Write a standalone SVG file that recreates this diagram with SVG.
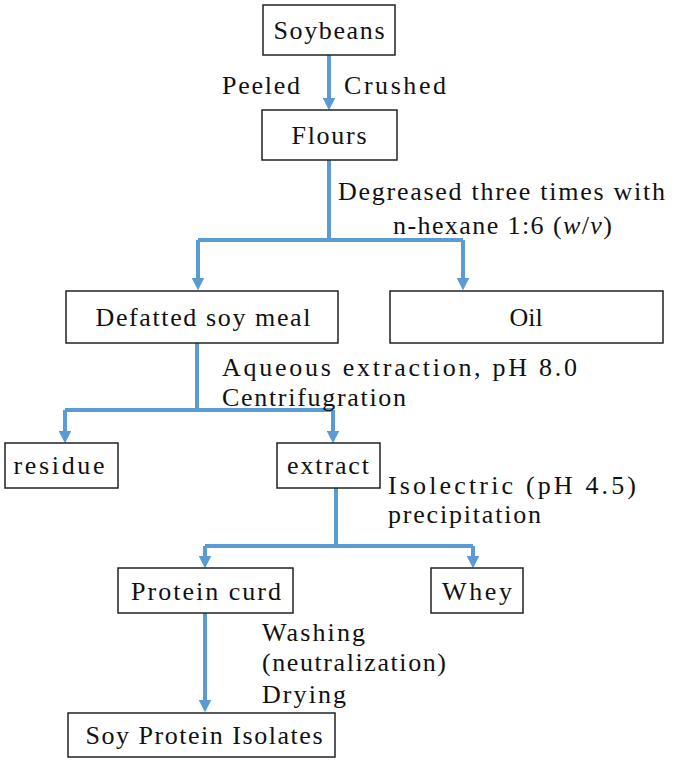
<svg xmlns="http://www.w3.org/2000/svg" width="685" height="765" viewBox="0 0 685 765">
<style>
.b{fill:#fff;stroke:#222;stroke-width:1.5}
text{font-family:"Liberation Serif","DejaVu Serif",serif;font-size:26px;fill:#111}
.c{text-anchor:middle}
.l{fill:none;stroke:#5b9bd5;stroke-width:4}
</style>
<defs><marker id="a" viewBox="0 0 10 10" refX="5" refY="5" markerWidth="3.2" markerHeight="3.2" orient="auto"><path d="M0,0L10,5L0,10z" fill="#5b9bd5"/></marker></defs>
<rect width="685" height="765" fill="#fff"/>
<g id="connectors">
<path class="l" d="M329,55V104" marker-end="url(#a)"/>
<path class="l" d="M329,160V240M198,240H463"/>
<path class="l" d="M198,240V284" marker-end="url(#a)"/>
<path class="l" d="M463,240V284" marker-end="url(#a)"/>
<path class="l" d="M197,343V410M65,410H333"/>
<path class="l" d="M65,410V437" marker-end="url(#a)"/>
<path class="l" d="M333,410V437" marker-end="url(#a)"/>
<path class="l" d="M336,488V546M205,546H473"/>
<path class="l" d="M205,546V562" marker-end="url(#a)"/>
<path class="l" d="M473,546V562" marker-end="url(#a)"/>
<path class="l" d="M205,613V706" marker-end="url(#a)"/>
<text x="222" y="94" textLength="78">Peeled</text><text x="344" y="94" textLength="102">Crushed</text>
<text x="338" y="200" textLength="327">Degreased three times with</text>
<text x="393" y="234" textLength="219">n-hexane 1:6 (<tspan font-style="italic">w</tspan>/<tspan font-style="italic">v</tspan>)</text>
<text x="222" y="376" textLength="355">Aqueous extraction, pH 8.0</text>
<text x="222" y="406" textLength="184">Centrifugration</text>
<text x="388" y="494" textLength="248">Isolectric (pH 4.5)</text>
<text x="388" y="523" textLength="153">precipitation</text>
<text x="262" y="641" textLength="103">Washing</text>
<text x="262" y="671" textLength="184">(neutralization)</text>
<text x="262" y="703" textLength="84">Drying</text>
</g>
<g id="soybeans"><rect class="b" x="263" y="5" width="132" height="50"/><text class="c" x="329" y="39" textLength="111">Soybeans</text></g>
<g id="flours"><rect class="b" x="262" y="110" width="135" height="50"/><text class="c" x="329" y="144" textLength="75">Flours</text></g>
<g id="defatted"><rect class="b" x="66" y="291" width="272" height="52"/><text class="c" x="203" y="326" textLength="215">Defatted soy meal</text></g>
<g id="oil"><rect class="b" x="390" y="291" width="273" height="52"/><text class="c" x="526" y="326">Oil</text></g>
<g id="residue"><rect class="b" x="5" y="443" width="113" height="45"/><text class="c" x="59" y="474" textLength="91">residue</text></g>
<g id="extract"><rect class="b" x="277" y="443" width="103" height="45"/><text class="c" x="328" y="474" textLength="82">extract</text></g>
<g id="curd"><rect class="b" x="118" y="568" width="175" height="45"/><text class="c" x="206" y="600" textLength="150">Protein curd</text></g>
<g id="whey"><rect class="b" x="431" y="568" width="92" height="45"/><text class="c" x="477" y="600" textLength="70">Whey</text></g>
<g id="spi"><rect class="b" x="68" y="713" width="267" height="44"/><text class="c" x="204" y="744" textLength="237">Soy Protein Isolates</text></g>
</svg>
